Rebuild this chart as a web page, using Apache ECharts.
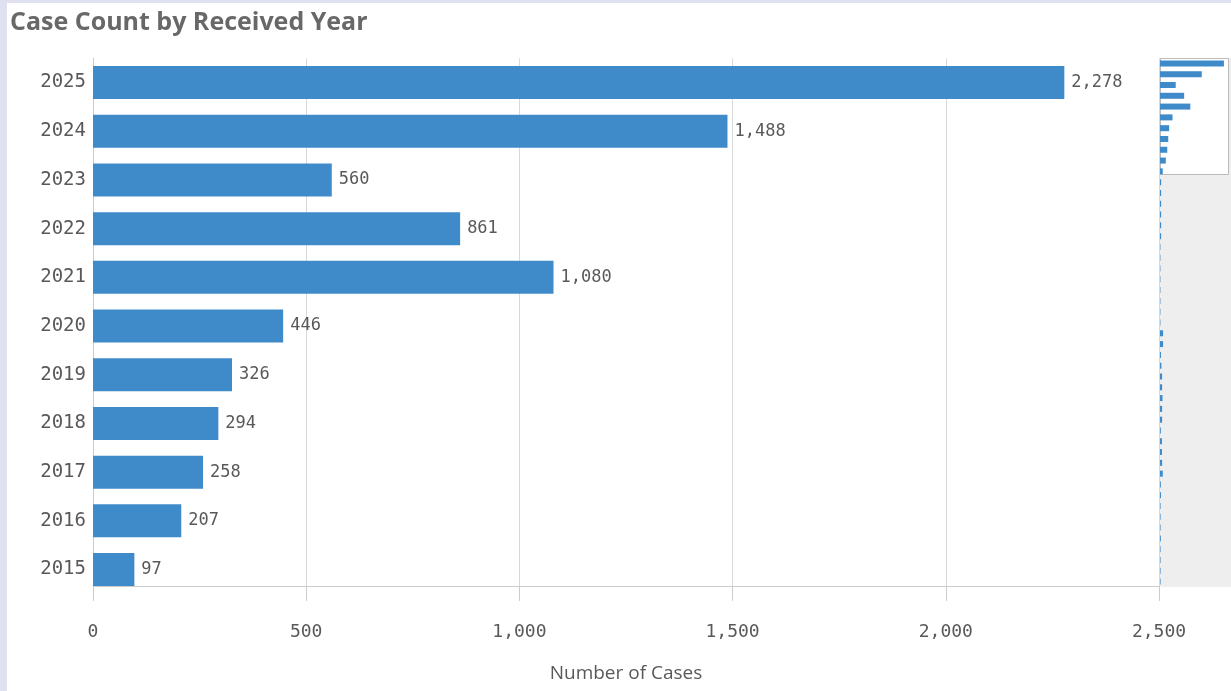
<!DOCTYPE html>
<html>
<head>
<meta charset="utf-8">
<script src="https://cdn.jsdelivr.net/npm/echarts@6/dist/echarts.min.js"></script>
<style>
  html, body { margin: 0; padding: 0; width: 1231px; height: 691px; background: #dfe1f0; overflow: hidden; }
  #panel { position: absolute; left: 7px; top: 3px; right: 0; bottom: 0; background: #ffffff; }
  #chart { position: absolute; left: 0; top: 0; width: 1231px; height: 691px; }
</style>
</head>
<body>
<div id="panel"></div>
<div id="chart"></div>
<script>
// ---- data ----
const years = ['2025', '2024', '2023', '2022', '2021', '2020', '2019', '2018', '2017', '2016', '2015'];
const caseCounts = [2278, 1488, 560, 861, 1080, 446, 326, 294, 258, 207, 97];
// rows below the visible window in the scroll overview (estimated from the mini bars)
const olderYears = ['2014','2013','2012','2011','2010','2009','2008','2007','2006','2005','2004','2003','2002',
  '2001','2000','1999','1998','1997','1996','1995','1994','1993','1992','1991','1990','1989','1988','1987',
  '1986','1985','1984','1983','1982','1981','1980','1979','1978','1977'];
const olderCounts = [40, 40, 40, 40, 40, 40, 15, 15, 15, 15, 15, 15, 15, 15, 110, 110, 35, 50, 75, 75, 90, 75, 75,
  30, 70, 70, 75, 100, 30, 35, 20, 20, 20, 30, 20, 20, 20, 20];
const xTicks = { min: 0, max: 2500, interval: 500 };
const titleText = 'Case Count by Received Year';
const xAxisName = 'Number of Cases';

const blue = '#3f8bca';
const textGray = '#595959';
const mono = '"DejaVu Sans Mono", monospace';

const chart = echarts.init(document.getElementById('chart'), null, { renderer: 'canvas' });

const fmt = v => v.toLocaleString('en-US');

const allYears = years.concat(olderYears);
const allCounts = caseCounts.concat(olderCounts);

const option = {
  backgroundColor: 'transparent',
  animation: false,
  title: {
    text: titleText,
    left: 5, top: 5,
    textStyle: { fontFamily: '"Open Sans"', fontWeight: 'bold', fontSize: 25, color: '#686868' }
  },
  grid: [
    { left: 93, top: 58.2, width: 1066, height: 535.7, containLabel: false },
    { left: 1160, top: 58, width: 71, height: 529, show: true, backgroundColor: '#eeeeee', borderWidth: 0 }
  ],
  xAxis: [
    {
      gridIndex: 0, type: 'value', min: xTicks.min, max: xTicks.max, interval: xTicks.interval,
      offset: -8,
      axisLine: { show: true, lineStyle: { color: '#cccccc', width: 1 } },
      axisTick: { show: true, length: 15, lineStyle: { color: '#cccccc' } },
      splitLine: { show: true, lineStyle: { color: '#d9d9d9', width: 1 } },
      axisLabel: { margin: 37, fontFamily: mono, fontSize: 18, color: textGray, formatter: fmt },
      name: xAxisName, nameLocation: 'middle', nameGap: 78,
      nameTextStyle: { fontFamily: '"Open Sans"', fontSize: 19, color: textGray }
    },
    {
      gridIndex: 1, type: 'value', min: 0, max: 2530, show: false
    }
  ],
  yAxis: [
    {
      gridIndex: 0, type: 'category', data: years, inverse: true,
      axisLine: { show: true, lineStyle: { color: '#cccccc', width: 1 } },
      axisTick: { show: false },
      axisLabel: { margin: 7, fontFamily: mono, fontSize: 19, color: textGray }
    },
    {
      gridIndex: 1, type: 'category', data: allYears, inverse: true, show: false
    }
  ],
  graphic: [
    { type: 'rect', z: 1, shape: { x: 1160.5, y: 58.5, width: 68, height: 116 },
      style: { fill: '#ffffff', stroke: '#bbbbbb', lineWidth: 1 } }
  ],
  series: [
    {
      type: 'bar', xAxisIndex: 0, yAxisIndex: 0, data: caseCounts, barWidth: 33,
      itemStyle: { color: blue },
      label: { show: true, position: 'right', distance: 7, fontFamily: mono, fontSize: 17, color: textGray, formatter: p => fmt(p.value) }
    },
    {
      type: 'bar', xAxisIndex: 1, yAxisIndex: 1, data: allCounts, barWidth: 6, z: 3,
      itemStyle: { color: blue }
    }
  ]
};
chart.setOption(option);
</script>
</body>
</html>
